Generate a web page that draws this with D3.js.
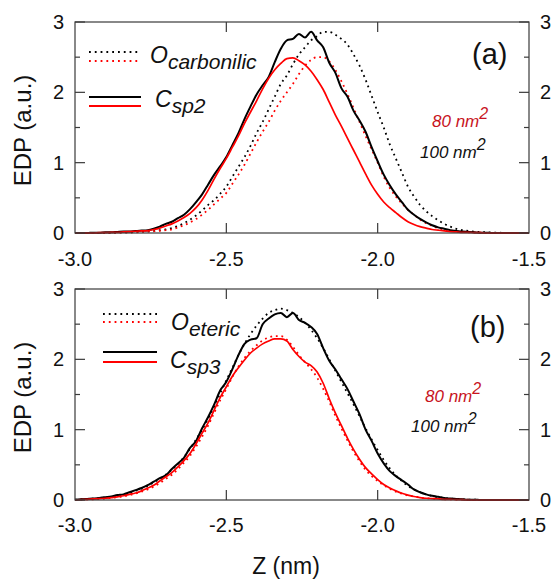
<!DOCTYPE html>
<html>
<head>
<meta charset="utf-8">
<script src="https://cdn.jsdelivr.net/npm/d3@7"></script>
<style>
  body { margin: 0; background: #fff; }
  text { font-family: "Liberation Sans", Arial, sans-serif; }
</style>
</head>
<body>
<div id="plot"></div>
<script>
// Z grid (nm): one sample every 0.02 nm from -3.0 to -1.5
const zValues = d3.range(76).map(i => +(-3 + i * 0.02).toFixed(2));

// EDP values, rows of 10 samples
// (a) carbonyl oxygen / sp2 carbon
const aSolid100 = [
  0, 0, 0, 0.005, 0.005, 0.01, 0.01, 0.015, 0.02, 0.02,
  0.03, 0.035, 0.04, 0.06, 0.09, 0.13, 0.16, 0.21, 0.26, 0.34,
  0.44, 0.55, 0.69, 0.83, 0.95, 1.08, 1.25, 1.42, 1.62, 1.80,
  1.97, 2.10, 2.22, 2.43, 2.62, 2.74, 2.76, 2.83, 2.78, 2.86,
  2.74, 2.64, 2.42, 2.28, 2.06, 1.94, 1.74, 1.60, 1.44, 1.22,
  1.02, 0.83, 0.68, 0.55, 0.44, 0.33, 0.26, 0.20, 0.15, 0.11,
  0.08, 0.06, 0.04, 0.03, 0.02, 0.015, 0.01, 0.005, 0.005, 0,
  0, 0, 0, 0, 0, 0];
const aSolid80 = [
  0, 0, 0, 0, 0.005, 0.005, 0.01, 0.01, 0.015, 0.02,
  0.025, 0.03, 0.035, 0.05, 0.07, 0.10, 0.13, 0.17, 0.22, 0.28,
  0.36, 0.47, 0.61, 0.77, 0.92, 1.06, 1.22, 1.38, 1.56, 1.72,
  1.88, 2.05, 2.20, 2.32, 2.41, 2.48, 2.49, 2.45, 2.39, 2.30,
  2.18, 2.04, 1.86, 1.68, 1.52, 1.35, 1.18, 1.01, 0.84, 0.68,
  0.55, 0.44, 0.36, 0.29, 0.22, 0.16, 0.12, 0.09, 0.07, 0.05,
  0.04, 0.03, 0.02, 0.015, 0.01, 0.01, 0.005, 0.005, 0, 0,
  0, 0, 0, 0, 0, 0];
const aDot100 = [
  0, 0, 0, 0, 0, 0, 0.005, 0.005, 0.01, 0.01,
  0.015, 0.02, 0.025, 0.03, 0.04, 0.05, 0.07, 0.10, 0.14, 0.19,
  0.25, 0.32, 0.40, 0.47, 0.56, 0.66, 0.80, 0.94, 1.08, 1.24,
  1.42, 1.58, 1.76, 1.94, 2.12, 2.24, 2.40, 2.54, 2.64, 2.74,
  2.80, 2.86, 2.86, 2.82, 2.76, 2.68, 2.54, 2.38, 2.18, 1.95,
  1.72, 1.50, 1.26, 1.06, 0.86, 0.66, 0.52, 0.40, 0.31, 0.24,
  0.18, 0.13, 0.09, 0.06, 0.04, 0.03, 0.02, 0.015, 0.01, 0.005,
  0.005, 0, 0, 0, 0, 0];
const aDot80 = [
  0, 0, 0, 0, 0, 0, 0, 0.005, 0.005, 0.01,
  0.01, 0.015, 0.02, 0.025, 0.03, 0.04, 0.05, 0.08, 0.11, 0.15,
  0.20, 0.26, 0.33, 0.41, 0.49, 0.57, 0.70, 0.83, 0.97, 1.13,
  1.29, 1.44, 1.58, 1.74, 1.88, 2.00, 2.12, 2.26, 2.38, 2.46,
  2.50, 2.50, 2.44, 2.32, 2.16, 1.98, 1.78, 1.58, 1.38, 1.19,
  1.00, 0.80, 0.64, 0.52, 0.42, 0.33, 0.26, 0.19, 0.14, 0.10,
  0.07, 0.05, 0.035, 0.025, 0.015, 0.01, 0.005, 0.005, 0, 0,
  0, 0, 0, 0, 0, 0];

// (b) ether oxygen / sp3 carbon
const bSolid100 = [
  0.005, 0.01, 0.015, 0.02, 0.03, 0.04, 0.05, 0.07, 0.08, 0.11,
  0.14, 0.17, 0.21, 0.26, 0.31, 0.35, 0.44, 0.52, 0.60, 0.74,
  0.84, 1.02, 1.18, 1.36, 1.56, 1.68, 1.86, 2.06, 2.22, 2.28,
  2.30, 2.50, 2.58, 2.64, 2.66, 2.60, 2.66, 2.56, 2.52, 2.46,
  2.36, 2.16, 1.98, 1.86, 1.72, 1.58, 1.40, 1.22, 1.00, 0.84,
  0.66, 0.52, 0.41, 0.34, 0.28, 0.22, 0.15, 0.11, 0.08, 0.06,
  0.045, 0.03, 0.02, 0.015, 0.01, 0.005, 0.005, 0, 0, 0,
  0, 0, 0, 0, 0, 0];
const bDot100 = [
  0.005, 0.01, 0.015, 0.02, 0.03, 0.035, 0.045, 0.06, 0.075, 0.10,
  0.13, 0.16, 0.20, 0.25, 0.30, 0.36, 0.43, 0.51, 0.61, 0.73,
  0.86, 1.00, 1.16, 1.33, 1.52, 1.70, 1.88, 2.06, 2.22, 2.36,
  2.48, 2.58, 2.66, 2.70, 2.72, 2.70, 2.66, 2.60, 2.52, 2.42,
  2.30, 2.16, 2.00, 1.84, 1.68, 1.52, 1.36, 1.19, 1.02, 0.86,
  0.71, 0.57, 0.45, 0.35, 0.27, 0.20, 0.15, 0.11, 0.08, 0.055,
  0.04, 0.03, 0.02, 0.015, 0.01, 0.005, 0.005, 0, 0, 0,
  0, 0, 0, 0, 0, 0];
const bSolid80 = [
  0, 0.005, 0.01, 0.015, 0.02, 0.025, 0.035, 0.045, 0.06, 0.08,
  0.10, 0.13, 0.17, 0.21, 0.27, 0.33, 0.39, 0.47, 0.56, 0.66,
  0.80, 0.95, 1.10, 1.28, 1.46, 1.61, 1.76, 1.88, 1.99, 2.09,
  2.16, 2.22, 2.26, 2.29, 2.29, 2.26, 2.14, 2.04, 1.96, 1.91,
  1.82, 1.66, 1.44, 1.24, 1.06, 0.88, 0.72, 0.58, 0.46, 0.37,
  0.29, 0.22, 0.17, 0.13, 0.095, 0.07, 0.05, 0.035, 0.025, 0.02,
  0.015, 0.01, 0.01, 0.005, 0.005, 0, 0, 0, 0, 0,
  0, 0, 0, 0, 0, 0];
const bDot80 = [
  0, 0.005, 0.01, 0.01, 0.015, 0.02, 0.03, 0.04, 0.05, 0.07,
  0.09, 0.12, 0.15, 0.19, 0.24, 0.30, 0.36, 0.44, 0.53, 0.63,
  0.76, 0.90, 1.06, 1.24, 1.42, 1.58, 1.75, 1.90, 2.02, 2.12,
  2.20, 2.27, 2.31, 2.33, 2.33, 2.28, 2.18, 2.06, 1.96, 1.86,
  1.74, 1.58, 1.40, 1.20, 1.02, 0.85, 0.69, 0.55, 0.43, 0.34,
  0.27, 0.21, 0.16, 0.12, 0.09, 0.065, 0.05, 0.035, 0.025, 0.02,
  0.015, 0.01, 0.01, 0.005, 0.005, 0.005, 0, 0, 0, 0,
  0, 0, 0, 0, 0, 0];

// Axis ticks and labels
const xTicks = [-3.0, -2.5, -2.0, -1.5];
const yTicks = [0, 1, 2, 3];
const yMinorTicks = [0.5, 1.5, 2.5];
const areaLabels = ["80 nm", "100 nm"];

const width = 555, height = 579;
const left = 75, right = 529;
const frameColor = "#3a3a3a";
const red = "#ff0000";

const svg = d3.select("#plot")
    .append("svg")
    .attr("width", width)
    .attr("height", height);

const x = d3.scaleLinear()
    .domain([-3.0, -1.5])
    .range([left, right]);

// Panel settings (positions only, data are above)
const panels = [
    {
        top: 22, bottom: 233, tag: "(a)", tagX: 472, tagY: 64,
        dot100: aDot100, dot80: aDot80, solid100: aSolid100, solid80: aSolid80,
        oSub: "carbonilic", cSub: "sp2",
        leg: { x0: 89, x1: 141, dk: 52, dr: 61, sk: 97, sr: 106, oX: 150, oY: 63, cX: 155, cY: 107 },
        area: { x80: 432, y80: 127, x100: 420, y100: 158 },
        xLabelY: 266
    },
    {
        top: 289, bottom: 500, tag: "(b)", tagX: 470, tagY: 337,
        dot100: bDot100, dot80: bDot80, solid100: bSolid100, solid80: bSolid80,
        oSub: "eteric", cSub: "sp3",
        leg: { x0: 103, x1: 157, dk: 314, dr: 322, sk: 352, sr: 362, oX: 171, oY: 330, cX: 170, cY: 368 },
        area: { x80: 425, y80: 402, x100: 411, y100: 432 },
        xLabelY: 532
    }
];

panels.forEach(p => {
    const y = d3.scaleLinear()
        .domain([0, 3])
        .range([p.bottom, p.top]);

    const g = svg.append("g");

    const line = d3.line()
        .x((d, i) => x(zValues[i]))
        .y(d => y(d))
        .curve(d3.curveMonotoneX);

    // curves: dotted first, solid on top, red over black
    const curves = [
        { data: p.dot100, color: "#000", dash: "1.8,3.8", w: 1.8 },
        { data: p.dot80, color: red, dash: "1.8,3.8", w: 1.8 },
        { data: p.solid100, color: "#000", dash: null, w: 2 },
        { data: p.solid80, color: red, dash: null, w: 1.7 }
    ];
    curves.forEach(c => {
        g.append("path")
            .datum(c.data)
            .attr("d", line)
            .attr("fill", "none")
            .attr("stroke", c.color)
            .attr("stroke-width", c.w)
            .attr("stroke-dasharray", c.dash)
            .attr("stroke-linejoin", "round");
    });

    // frame
    g.append("rect")
        .attr("x", left)
        .attr("y", p.top)
        .attr("width", right - left)
        .attr("height", p.bottom - p.top)
        .attr("fill", "none")
        .attr("stroke", frameColor)
        .attr("stroke-width", 1.2);

    // x ticks, inward on bottom and top
    xTicks.slice(1, -1).forEach(t => {
        [[p.bottom, p.bottom - 10], [p.top, p.top + 10]].forEach(([a, b]) => {
            g.append("line")
                .attr("x1", x(t)).attr("x2", x(t))
                .attr("y1", a).attr("y2", b)
                .attr("stroke", frameColor).attr("stroke-width", 1.2);
        });
    });
    xTicks.forEach(t => {
        g.append("text")
            .attr("x", x(t))
            .attr("y", p.xLabelY)
            .attr("text-anchor", "middle")
            .attr("font-size", "20px")
            .attr("fill", "#111")
            .text(t.toFixed(1));
    });

    // y ticks both sides, inward
    yTicks.concat(yMinorTicks).forEach(t => {
        const len = Number.isInteger(t) ? 10 : 5;
        g.append("line")
            .attr("x1", left).attr("x2", left + len)
            .attr("y1", y(t)).attr("y2", y(t))
            .attr("stroke", frameColor).attr("stroke-width", 1.2);
        g.append("line")
            .attr("x1", right).attr("x2", right - len)
            .attr("y1", y(t)).attr("y2", y(t))
            .attr("stroke", frameColor).attr("stroke-width", 1.2);
    });
    yTicks.forEach(t => {
        g.append("text")
            .attr("x", left - 11)
            .attr("y", y(t) + 7)
            .attr("text-anchor", "end")
            .attr("font-size", "20px")
            .attr("fill", "#111")
            .text(t);
        g.append("text")
            .attr("x", right + 11)
            .attr("y", y(t) + 7)
            .attr("text-anchor", "start")
            .attr("font-size", "20px")
            .attr("fill", "#111")
            .text(t);
    });

    // y label
    g.append("text")
        .attr("transform", `translate(31,${(p.top + p.bottom) / 2 + 3}) rotate(-90)`)
        .attr("text-anchor", "middle")
        .attr("font-size", "24px")
        .attr("fill", "#111")
        .text("EDP (a.u.)");

    // panel tag
    g.append("text")
        .attr("x", p.tagX)
        .attr("y", p.tagY)
        .attr("font-size", "29px")
        .attr("fill", "#111")
        .text(p.tag);

    // legend
    const L = p.leg;
    [[L.dk, "#000", "1.8,4"], [L.dr, red, "1.8,4"], [L.sk, "#000", null], [L.sr, red, null]].forEach(([yy, col, dash]) => {
        g.append("line")
            .attr("x1", L.x0).attr("x2", L.x1)
            .attr("y1", yy).attr("y2", yy)
            .attr("stroke", col)
            .attr("stroke-width", 2)
            .attr("stroke-dasharray", dash);
    });
    const oText = g.append("text")
        .attr("x", L.oX).attr("y", L.oY)
        .attr("font-size", "23px")
        .attr("font-style", "italic")
        .attr("fill", "#111");
    oText.append("tspan").text("O");
    oText.append("tspan").attr("dy", 6).attr("font-size", "21px").text(p.oSub);

    const cText = g.append("text")
        .attr("x", L.cX).attr("y", L.cY)
        .attr("font-size", "23px")
        .attr("font-style", "italic")
        .attr("fill", "#111");
    cText.append("tspan").text("C");
    cText.append("tspan").attr("dy", 6).attr("font-size", "21px").text(p.cSub);

    // area labels
    const A = p.area;
    [[A.x80, A.y80, areaLabels[0], "#c8141e"], [A.x100, A.y100, areaLabels[1], "#111"]].forEach(([xx, yy, txt, col]) => {
        const t = g.append("text")
            .attr("x", xx).attr("y", yy)
            .attr("font-size", "17px")
            .attr("font-style", "italic")
            .attr("fill", col);
        t.append("tspan").text(txt);
        t.append("tspan").attr("dy", -8).attr("font-size", "16px").text("2");
    });
});

// x label
svg.append("text")
    .attr("x", 286)
    .attr("y", 574)
    .attr("text-anchor", "middle")
    .attr("font-size", "23px")
    .attr("fill", "#111")
    .text("Z (nm)");
</script>
</body>
</html>
